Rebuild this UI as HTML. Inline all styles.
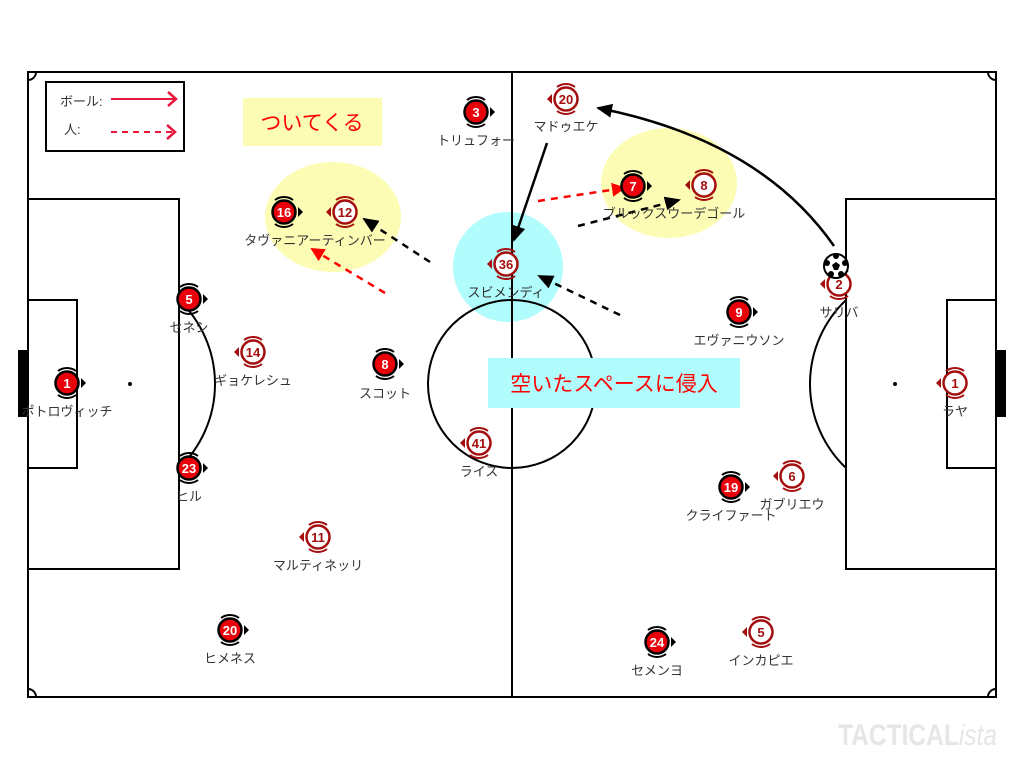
<!DOCTYPE html>
<html><head><meta charset="utf-8"><style>
html,body{margin:0;padding:0;background:#fff;width:1024px;height:768px;overflow:hidden}
svg{display:block}
.lbl{font-family:"Liberation Sans","Noto Sans CJK JP",sans-serif;font-size:13px;fill:#333;text-anchor:middle}
.num{font-family:"Liberation Sans",sans-serif;font-size:13px;font-weight:bold;text-anchor:middle}
</style></head><body>
<svg width="1024" height="768" viewBox="0 0 1024 768" xmlns="http://www.w3.org/2000/svg">
<defs>
<g id="rp">
<path d="M-9,-12 A15,15 0 0 1 9,-12 M-9,12 A15,15 0 0 0 9,12" fill="none" stroke="#000" stroke-width="2"/>
<circle r="11.5" fill="#e8000b" stroke="#000" stroke-width="2.5"/>
<polygon points="14,-5 19,0 14,5" fill="#000"/>
</g>
<g id="wp">
<path d="M-9,-12 A15,15 0 0 1 9,-12 M-9,12 A15,15 0 0 0 9,12" fill="none" stroke="#a50e0e" stroke-width="2"/>
<circle r="11.5" fill="#fff" stroke="#a50e0e" stroke-width="2.5"/>
<polygon points="-14,-5 -19,0 -14,5" fill="#a50e0e"/>
</g>
<marker id="ar" markerWidth="14" markerHeight="14" refX="12" refY="7" orient="auto" markerUnits="userSpaceOnUse"><polygon points="0,0 14,7 0,14" fill="#f00"/></marker>
<marker id="ab2" markerWidth="16" markerHeight="14" refX="14" refY="7" orient="auto" markerUnits="userSpaceOnUse"><polygon points="0,0 16,7 0,14" fill="#000"/></marker>
</defs>

<ellipse cx="333" cy="217" rx="68" ry="55" fill="#fcfcb4"/>
<ellipse cx="669" cy="183" rx="68" ry="55" fill="#fcfcb4"/>
<circle cx="508" cy="267" r="55" fill="#b1fcfc"/>

<g fill="none" stroke="#000" stroke-width="2">
<rect x="28" y="72" width="968" height="625"/>
<line x1="512" y1="72" x2="512" y2="697"/>
<circle cx="512" cy="384" r="84"/>
<rect x="28" y="199" width="151" height="370"/>
<rect x="28" y="300" width="49" height="168"/>
<rect x="846" y="199" width="150" height="370"/>
<rect x="947" y="300" width="49" height="168"/>
<path d="M179,300 A116,116 0 0 1 179,468"/>
<path d="M846,300 A116,116 0 0 0 846,468"/>
<path d="M28,80 A8,8 0 0 0 36,72 M988,72 A8,8 0 0 0 996,80 M28,689 A8,8 0 0 1 36,697 M988,697 A8,8 0 0 1 996,689"/>
</g>
<rect x="18" y="350" width="10" height="67" fill="#000"/>
<rect x="996" y="350" width="10" height="67" fill="#000"/>
<circle cx="130" cy="384" r="2" fill="#000"/>
<circle cx="895" cy="384" r="2" fill="#000"/>

<rect x="46" y="82" width="138" height="69" fill="#fff" stroke="#000" stroke-width="2"/>
<text x="60" y="106" class="lbl" style="text-anchor:start">ボール:</text>
<text x="64" y="134" class="lbl" style="text-anchor:start">人:</text>
<line x1="111" y1="99" x2="175" y2="99" stroke="#e8173c" stroke-width="2"/>
<path d="M168,92 L176,99 L168,106" fill="none" stroke="#e8173c" stroke-width="2.5"/>
<line x1="111" y1="132" x2="174" y2="132" stroke="#e8173c" stroke-width="2" stroke-dasharray="6,5"/>
<path d="M167,125 L175,132 L167,139" fill="none" stroke="#e8173c" stroke-width="2.5"/>

<rect x="243" y="98" width="139" height="48" fill="#fcfcb4"/>
<text x="312" y="130" style="font-family:'Liberation Sans','Noto Sans CJK JP',sans-serif;font-size:21px;fill:#f00;text-anchor:middle">ついてくる</text>
<rect x="488" y="358" width="252" height="50" fill="#b1fcfc"/>
<text x="614" y="391" style="font-family:'Liberation Sans','Noto Sans CJK JP',sans-serif;font-size:21px;fill:#f00;text-anchor:middle">空いたスペースに侵入</text>

<line x1="385" y1="293" x2="312" y2="249" stroke="#f00" stroke-width="2.5" stroke-dasharray="7,6" marker-end="url(#ar)"/>
<line x1="430" y1="262" x2="364" y2="219" stroke="#000" stroke-width="2.5" stroke-dasharray="7,6" marker-end="url(#ab2)"/>
<line x1="547" y1="143" x2="514" y2="240" stroke="#000" stroke-width="2.5" marker-end="url(#ab2)"/>
<line x1="538" y1="201" x2="624" y2="188" stroke="#f00" stroke-width="2.5" stroke-dasharray="7,6" marker-end="url(#ar)"/>
<line x1="578" y1="226" x2="679" y2="200" stroke="#000" stroke-width="2.5" stroke-dasharray="7,6" marker-end="url(#ab2)"/>
<line x1="620" y1="315" x2="539" y2="276" stroke="#000" stroke-width="2.5" stroke-dasharray="7,6" marker-end="url(#ab2)"/>
<path d="M834,246 Q760,140 598,108" fill="none" stroke="#000" stroke-width="2.5" marker-end="url(#ab2)"/>

<g transform="translate(67,383)"><use href="#rp"/><text y="5" class="num" fill="#fff">1</text></g>
<text x="67" y="416" class="lbl">ポトロヴィッチ</text>
<g transform="translate(189,299)"><use href="#rp"/><text y="5" class="num" fill="#fff">5</text></g>
<text x="189" y="332" class="lbl">セネシ</text>
<g transform="translate(189,468)"><use href="#rp"/><text y="5" class="num" fill="#fff">23</text></g>
<text x="189" y="501" class="lbl">ヒル</text>
<g transform="translate(284,212)"><use href="#rp"/><text y="5" class="num" fill="#fff">16</text></g>
<g transform="translate(476,112)"><use href="#rp"/><text y="5" class="num" fill="#fff">3</text></g>
<text x="476" y="145" class="lbl">トリュフォー</text>
<g transform="translate(385,364)"><use href="#rp"/><text y="5" class="num" fill="#fff">8</text></g>
<text x="385" y="398" class="lbl">スコット</text>
<g transform="translate(230,630)"><use href="#rp"/><text y="5" class="num" fill="#fff">20</text></g>
<text x="230" y="663" class="lbl">ヒメネス</text>
<g transform="translate(633,186)"><use href="#rp"/><text y="5" class="num" fill="#fff">7</text></g>
<g transform="translate(739,312)"><use href="#rp"/><text y="5" class="num" fill="#fff">9</text></g>
<text x="739" y="345" class="lbl">エヴァニウソン</text>
<g transform="translate(731,487)"><use href="#rp"/><text y="5" class="num" fill="#fff">19</text></g>
<text x="731" y="520" class="lbl">クライファート</text>
<g transform="translate(657,642)"><use href="#rp"/><text y="5" class="num" fill="#fff">24</text></g>
<text x="657" y="675" class="lbl">セメンヨ</text>

<g transform="translate(253,352)"><use href="#wp"/><text y="5" class="num" fill="#a50e0e">14</text></g>
<text x="253" y="385" class="lbl">ギョケレシュ</text>
<g transform="translate(345,212)"><use href="#wp"/><text y="5" class="num" fill="#a50e0e">12</text></g>
<text x="315" y="245" class="lbl">タヴァニアーティンバー</text>
<g transform="translate(318,537)"><use href="#wp"/><text y="5" class="num" fill="#a50e0e">11</text></g>
<text x="318" y="570" class="lbl">マルティネッリ</text>
<g transform="translate(506,264)"><use href="#wp"/><text y="5" class="num" fill="#a50e0e">36</text></g>
<text x="506" y="297" class="lbl">スビメンディ</text>
<g transform="translate(479,443)"><use href="#wp"/><text y="5" class="num" fill="#a50e0e">41</text></g>
<text x="479" y="476" class="lbl">ライス</text>
<g transform="translate(566,99)"><use href="#wp"/><text y="5" class="num" fill="#a50e0e">20</text></g>
<text x="566" y="131" class="lbl">マドゥエケ</text>
<g transform="translate(704,185)"><use href="#wp"/><text y="5" class="num" fill="#a50e0e">8</text></g>
<text x="674" y="218" class="lbl">ブルックスウーデゴール</text>
<g transform="translate(839,284)"><use href="#wp"/><text y="5" class="num" fill="#a50e0e">2</text></g>
<text x="839" y="317" class="lbl">サリバ</text>
<g transform="translate(955,383)"><use href="#wp"/><text y="5" class="num" fill="#a50e0e">1</text></g>
<text x="955" y="416" class="lbl">ラヤ</text>
<g transform="translate(792,476)"><use href="#wp"/><text y="5" class="num" fill="#a50e0e">6</text></g>
<text x="792" y="509" class="lbl">ガブリエウ</text>
<g transform="translate(761,632)"><use href="#wp"/><text y="5" class="num" fill="#a50e0e">5</text></g>
<text x="761" y="665" class="lbl">インカピエ</text>

<circle cx="836" cy="266" r="12" fill="#fff" stroke="#000" stroke-width="2"/>
<polygon points="836,262 840,265 838,270 834,270 832,265" fill="#000"/>
<circle cx="836" cy="256" r="3" fill="#000"/>
<circle cx="845" cy="263" r="3" fill="#000"/>
<circle cx="827" cy="263" r="3" fill="#000"/>
<circle cx="831" cy="274" r="3" fill="#000"/>
<circle cx="841" cy="274" r="3" fill="#000"/>

<text x="838" y="745" textLength="159" lengthAdjust="spacingAndGlyphs" style="font-family:'Liberation Sans',sans-serif;font-size:30px;font-weight:bold;fill:#e6e6e6">TACTICAL<tspan font-style="italic" font-weight="normal">ista</tspan></text>
</svg>
</body></html>
